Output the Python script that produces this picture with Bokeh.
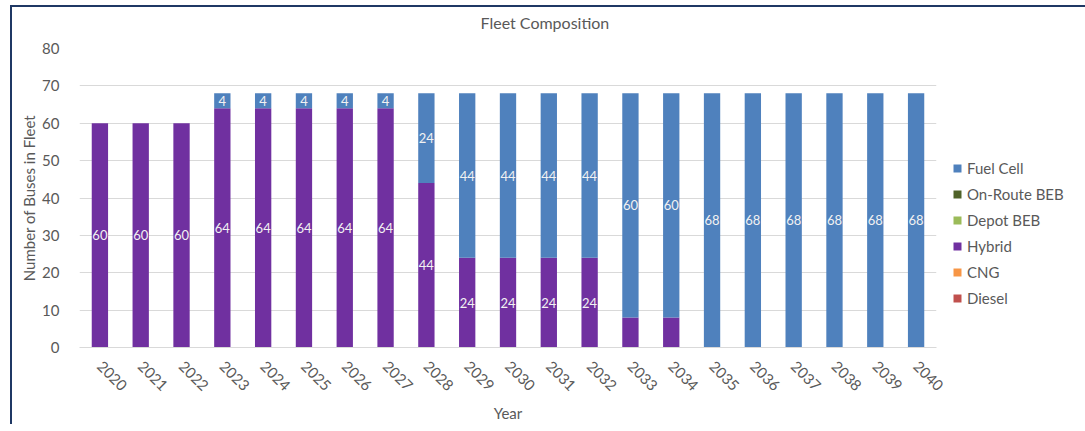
import math
from bokeh.plotting import figure
from bokeh.models import ColumnDataSource, Legend, LegendItem, LabelSet, Title
from bokeh.core.properties import value
from bokeh.embed import file_html
from bokeh.resources import INLINE

years = [str(y) for y in range(2020, 2041)]
diesel = [0] * 21
cng = [0] * 21
hybrid = [60, 60, 60, 64, 64, 64, 64, 64, 44, 24, 24, 24, 24, 8, 8, 0, 0, 0, 0, 0, 0]
depot_beb = [0] * 21
on_route_beb = [0] * 21
fuel_cell = [0, 0, 0, 4, 4, 4, 4, 4, 24, 44, 44, 44, 44, 60, 60, 68, 68, 68, 68, 68, 68]

series = ["Diesel", "CNG", "Hybrid", "Depot BEB", "On-Route BEB", "Fuel Cell"]
colors = ["#C0504D", "#F79646", "#7030A0", "#9BBB59", "#4F6228", "#4F81BD"]
values = [diesel, cng, hybrid, depot_beb, on_route_beb, fuel_cell]

FONT = "Lato"
GREY = "#595959"

data = {"year": years}
for name, vals in zip(series, values):
    data[name] = vals
src = ColumnDataSource(data)

p = figure(
    x_range=years, y_range=(0, 80),
    frame_width=857, frame_height=299,
    min_border_left=67, min_border_right=141, min_border_top=41, min_border_bottom=77,
    title=None,
    output_backend="svg", toolbar_location=None,
)
p.margin = (5, 0, 0, 10)
p.styles = {"border-top": "2px solid #1F3864", "border-left": "2px solid #1F3864",
            "border-right": "2px solid #1F3864"}

renderers = p.vbar_stack(series, x="year", width=0.4, source=src,
                         color=colors, line_color=None)

# data labels centred inside each visible segment
lab_x, lab_y, lab_t = [], [], []
base = [0] * 21
for name, vals in zip(series, values):
    for i, v in enumerate(vals):
        if v > 0 and not (name == "Hybrid" and v < 10):
            lab_x.append(years[i])
            lab_y.append(base[i] + v / 2)
            lab_t.append(str(v))
    base = [b + v for b, v in zip(base, vals)]
lsrc = ColumnDataSource(dict(x=lab_x, y=lab_y, t=lab_t))
p.add_layout(LabelSet(x="x", y="y", text="t", source=lsrc, text_align="center",
                      text_baseline="middle", text_color="#F2F2F2",
                      text_font=value(FONT), text_font_size="13px"))

# legend in the right-hand panel, series listed top of stack first
items = [LegendItem(label=n, renderers=[r]) for n, r in zip(series, renderers)][::-1]
legend = Legend(items=items, location=(16, 39), border_line_color=None,
                background_fill_alpha=0,
                label_text_font=FONT, label_text_font_size="15px",
                label_text_color=GREY, glyph_width=10, glyph_height=10,
                spacing=6, label_height=20, padding=4, margin=0)
p.add_layout(legend, "right")

# blank strip between the plot area and the chart title
p.add_layout(Title(text=" ", text_font_size="1px", standoff=14), "above")
p.add_layout(Title(text="Fleet Composition", align="left", offset=401, standoff=0,
                   text_font=FONT, text_font_size="16px", text_font_style="normal",
                   text_color=GREY), "above")

p.outline_line_color = None
p.xgrid.grid_line_color = None
p.ygrid.grid_line_color = "#D9D9D9"
p.yaxis.ticker = list(range(0, 90, 10))
p.yaxis.axis_line_color = None
p.xaxis.axis_line_color = "#D9D9D9"
for ax in (p.xaxis, p.yaxis):
    ax.major_tick_line_color = None
    ax.minor_tick_line_color = None
    ax.major_label_text_font = FONT
    ax.major_label_text_font_size = "15px"
    ax.major_label_text_color = GREY
    ax.axis_label_text_font = FONT
    ax.axis_label_text_font_size = "15px"
    ax.axis_label_text_font_style = "normal"
    ax.axis_label_text_color = GREY
p.xaxis.major_label_orientation = -math.pi / 4
p.xaxis.major_label_standoff = 10
p.yaxis.major_label_standoff = 14
p.yaxis.axis_label_standoff = 1
p.xaxis.axis_label = "Year"
p.yaxis.axis_label = "Number of Buses in Fleet"
p.x_range.range_padding = 0

open("out.html", "w").write(file_html(p, INLINE))
